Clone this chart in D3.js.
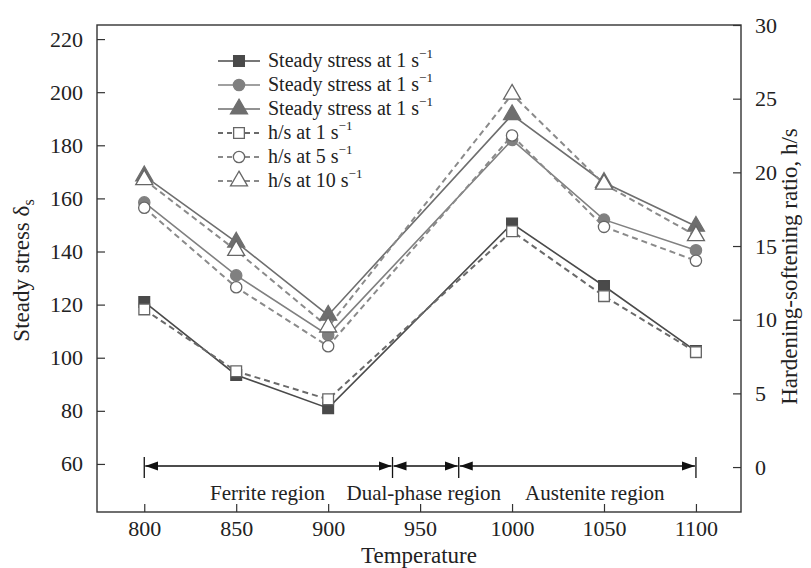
<!DOCTYPE html>
<html>
<head>
<meta charset="utf-8">
<script src="https://cdn.jsdelivr.net/npm/d3@7"></script>
<style>
  body { margin: 0; background: #fff; }
  svg text { font-family: "Liberation Serif", "Times New Roman", Times, serif; fill: #222; }
</style>
</head>
<body>
<div id="chart"></div>
<script>
// data
var temps = [800, 850, 900, 1000, 1050, 1100];
var stress1 = [121, 93.5, 81, 150.5, 127, 102.5];
var stress5 = [158.5, 131, 108.5, 182, 152, 140.5];
var stress10 = [168.5, 143.5, 116, 191.5, 166, 149.5];
var hs1 = [10.7, 6.5, 4.6, 16.0, 11.6, 7.8];
var hs5 = [17.6, 12.2, 8.2, 22.5, 16.3, 14.0];
var hs10 = [19.5, 14.7, 9.5, 25.3, 19.2, 15.7];
var xTicks = [800, 850, 900, 950, 1000, 1050, 1100];
var leftTicks = [60, 80, 100, 120, 140, 160, 180, 200, 220];
var rightTicks = [0, 5, 10, 15, 20, 25, 30];
var regionBounds = [800, 935, 971, 1100];
var regionNames = ["Ferrite region", "Dual-phase region", "Austenite region"];
var regionCenters = [867, 952, 1045];

var svgWidth = 811;
var svgHeight = 568;
var margin = { top: 25, right: 70, bottom: 56, left: 97 };
var width = svgWidth - margin.left - margin.right;
var height = svgHeight - margin.top - margin.bottom;

var svg = d3.select("#chart").append("svg")
  .attr("width", svgWidth)
  .attr("height", svgHeight);

var g = svg.append("g")
  .attr("transform", `translate(${margin.left}, ${margin.top})`);

var x = d3.scaleLinear().domain([774.3, 1124.5]).range([0, width]);
var yLeft = d3.scaleLinear().domain([41.9, 225.3]).range([height, 0]);
var yRight = d3.scaleLinear().domain([-3.05, 30]).range([height, 0]);

// axes, ticks pointing inward
var bottomAxis = d3.axisBottom(x).tickValues(xTicks).tickFormat(d3.format("d"))
  .tickSizeInner(-8).tickSizeOuter(0).tickPadding(8);
var leftAxis = d3.axisLeft(yLeft).tickValues(leftTicks)
  .tickSizeInner(-8).tickSizeOuter(0).tickPadding(14);
var rightAxis = d3.axisRight(yRight).tickValues(rightTicks)
  .tickSizeInner(-8).tickSizeOuter(0).tickPadding(14);

function styleAxis(sel) {
  sel.attr("font-family", null).attr("font-size", null);
  sel.select(".domain").remove();
  sel.selectAll("line").attr("stroke", "#333").attr("stroke-width", 1.2);
  sel.selectAll("text")
    .style("font-size", "22px")
    .attr("fill", "#222");
}

g.append("g").attr("transform", `translate(0, ${height})`).call(bottomAxis).call(styleAxis);
g.append("g").call(leftAxis).call(styleAxis);
g.append("g").attr("transform", `translate(${width}, 0)`).call(rightAxis).call(styleAxis);

// frame
g.append("rect")
  .attr("width", width).attr("height", height)
  .attr("fill", "none").attr("stroke", "#333").attr("stroke-width", 1.4);

// axis titles
svg.append("text")
  .attr("x", margin.left + width / 2).attr("y", 563)
  .attr("text-anchor", "middle").style("font-size", "23px")
  .text("Temperature");

var lt = svg.append("text")
  .attr("transform", `translate(29, ${margin.top + height / 2 + 2}) rotate(-90)`)
  .attr("text-anchor", "middle").style("font-size", "23px");
lt.append("tspan").text("Steady stress δ");
lt.append("tspan").style("font-size", "16px").attr("dy", 5).text("s");

svg.append("text")
  .attr("transform", `translate(797, ${margin.top + height / 2 - 2}) rotate(-90)`)
  .attr("text-anchor", "middle").style("font-size", "23px")
  .text("Hardening-softening ratio, h/s");

// series
var series = [
  { vals: stress1, y: yLeft, shape: "square", filled: true, color: "#4a4a4a", dash: null },
  { vals: stress5, y: yLeft, shape: "circle", filled: true, color: "#808080", dash: null },
  { vals: stress10, y: yLeft, shape: "triangle", filled: true, color: "#6e6e6e", dash: null },
  { vals: hs1, y: yRight, shape: "square", filled: false, color: "#6a6a6a", dash: "6,4" },
  { vals: hs5, y: yRight, shape: "circle", filled: false, color: "#8a8a8a", dash: "6,4" },
  { vals: hs10, y: yRight, shape: "triangle", filled: false, color: "#8a8a8a", dash: "6,4" }
];
var legendLabels = [
  "Steady stress at 1 s", "Steady stress at 1 s", "Steady stress at 1 s",
  "h/s at 1 s", "h/s at 5 s", "h/s at 10 s"
];

var symbolType = { square: d3.symbolSquare, circle: d3.symbolCircle, triangle: d3.symbolTriangle };
var symbolSize = { square: 115, circle: 100, triangle: 125 };

function drawMarker(sel, s) {
  sel.append("path")
    .attr("d", d3.symbol().type(symbolType[s.shape]).size(symbolSize[s.shape]))
    .attr("fill", s.filled ? s.color : "#fff")
    .attr("stroke", s.filled ? s.color : "#666")
    .attr("stroke-width", 1.3);
}

series.forEach(function (s) {
  var pts = temps.map((t, i) => [t, s.vals[i]]);
  var line = d3.line().x(d => x(d[0])).y(d => s.y(d[1]));
  g.append("path")
    .datum(pts)
    .attr("d", line)
    .attr("fill", "none")
    .attr("stroke", s.color)
    .attr("stroke-width", s.dash ? 2 : 1.6)
    .attr("stroke-dasharray", s.dash);
});

series.forEach(function (s) {
  temps.forEach(function (t, i) {
    var m = g.append("g").attr("transform", `translate(${x(t)}, ${s.y(s.vals[i])})`);
    drawMarker(m, s);
  });
});

// legend
var legend = svg.append("g").attr("transform", "translate(218, 61)");
series.forEach(function (s, i) {
  var row = legend.append("g").attr("transform", `translate(0, ${i * 24})`);
  row.append("line")
    .attr("x1", 0).attr("x2", 42).attr("y1", 0).attr("y2", 0)
    .attr("stroke", s.color).attr("stroke-width", s.dash ? 2 : 1.6)
    .attr("stroke-dasharray", s.dash ? "5,4" : null);
  var m = row.append("g").attr("transform", "translate(21, 0)");
  drawMarker(m, s);
  var txt = row.append("text").attr("x", 50).attr("y", 6).style("font-size", "20px");
  txt.append("tspan").text(legendLabels[i]);
  txt.append("tspan").style("font-size", "13px").attr("dy", -9).text("−1");
});

// phase regions with arrows
var arrowY = 466 - margin.top;
var defs = svg.append("defs");
defs.append("marker")
  .attr("id", "arrow")
  .attr("viewBox", "0 0 10 10").attr("refX", 10).attr("refY", 5)
  .attr("markerWidth", 10).attr("markerHeight", 10)
  .attr("orient", "auto-start-reverse")
  .append("path").attr("d", "M0,1.5 L10,5 L0,8.5 Z").attr("fill", "#111");

for (var i = 0; i < regionBounds.length - 1; i++) {
  g.append("line")
    .attr("x1", x(regionBounds[i]) + 1).attr("x2", x(regionBounds[i + 1]) - 1)
    .attr("y1", arrowY).attr("y2", arrowY)
    .attr("stroke", "#111").attr("stroke-width", 1.3)
    .attr("marker-start", "url(#arrow)").attr("marker-end", "url(#arrow)");
}
regionBounds.forEach(function (b) {
  g.append("line")
    .attr("x1", x(b)).attr("x2", x(b))
    .attr("y1", arrowY - 9).attr("y2", arrowY + 12)
    .attr("stroke", "#111").attr("stroke-width", 1.3);
});
regionNames.forEach(function (name, i) {
  g.append("text")
    .attr("x", x(regionCenters[i])).attr("y", arrowY + 34)
    .attr("text-anchor", "middle").style("font-size", "21px")
    .text(name);
});
</script>
</body>
</html>
